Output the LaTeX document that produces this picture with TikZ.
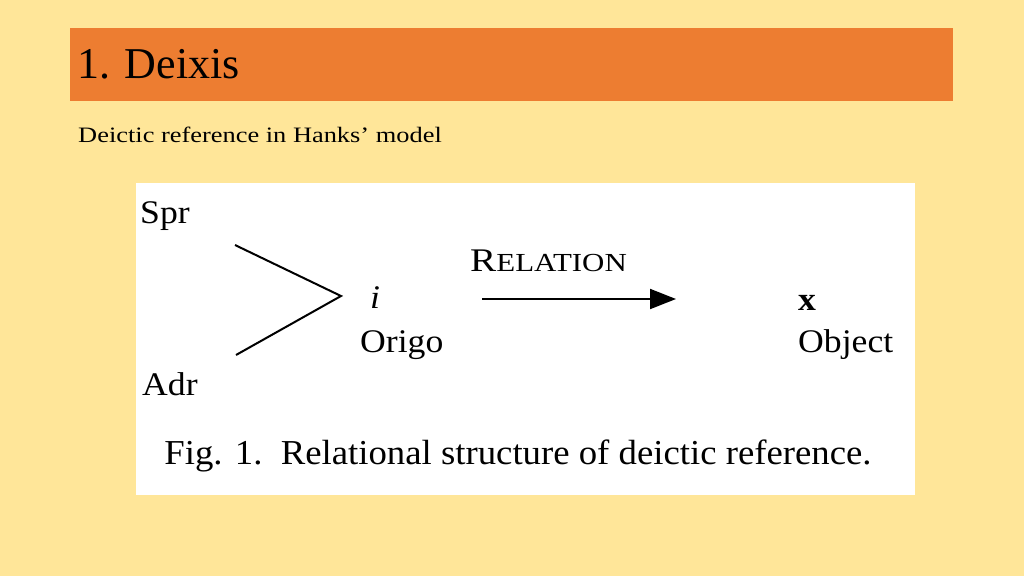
\documentclass[tikz,border=0pt]{standalone}
\usepackage{fontspec}
\setmainfont{Liberation Serif}
\usetikzlibrary{arrows.meta}
\definecolor{bg}{HTML}{FFE699}
\definecolor{bar}{HTML}{ED7D31}
\begin{document}
\begin{tikzpicture}[x=1pt,y=-1pt,
  lbl/.style={anchor=west,inner sep=0pt,xscale=1.08,font=\fontsize{33}{36}\selectfont}]
\useasboundingbox (0,0) rectangle (1024,576);
\fill[bg] (0,0) rectangle (1024,576);
\fill[bar] (70,28) rectangle (953,101);
\node[anchor=base west,inner sep=0pt,font=\fontsize{44}{48}\selectfont] (title) at (77,78) {1. Deixis};
\node[anchor=base west,inner sep=0pt,xscale=1.2,font=\fontsize{22}{26}\selectfont] (sub) at (78,142) {Deictic reference in Hanks’ model};
\fill[white] (136,183) rectangle (915,495);
\node[lbl] (spr) at (140,216) {Spr};
\node[lbl] (adr) at (142,384) {Adr};
\coordinate (a1) at (235,245);
\coordinate (a2) at (341,296);
\coordinate (a3) at (236,355);
\draw[line width=2pt] (a1) -- (a2) -- (a3);
\node[lbl,font=\fontsize{33}{36}\selectfont\itshape] (i) at (370,298) {i};
\node[lbl] (origo) at (360,345) {Origo};
\node[lbl,xscale=1.1] (rel) at (470,261) {R{\fontsize{26}{28}\selectfont ELATION}};
\coordinate (b1) at (482,299);
\coordinate (b2) at (676,299);
\draw[line width=2pt,-{Triangle[length=26pt,width=20pt]}] (b1) -- (b2);
\node[lbl,font=\fontsize{33}{36}\selectfont\bfseries] (x) at (798,303) {x};
\node[lbl] (obj) at (798,345) {Object};
\node[inner sep=0pt,xscale=1.05,font=\fontsize{35}{38}\selectfont] (cap) at (518,456) {Fig. 1.\ \ Relational structure of deictic reference.};
\end{tikzpicture}
\end{document}
